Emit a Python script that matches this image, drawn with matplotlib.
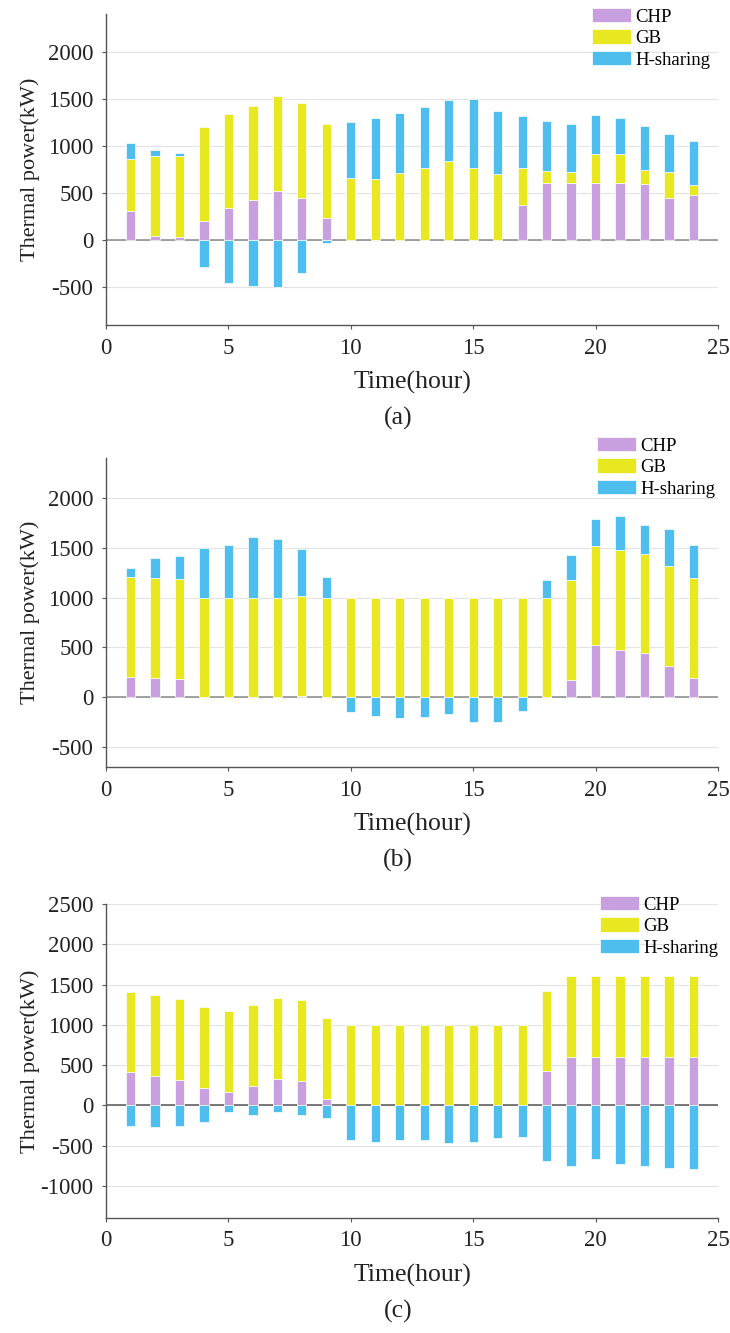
import matplotlib
matplotlib.use("Agg")
import matplotlib.pyplot as plt
import numpy as np

plt.rcParams['font.family'] = ['Liberation Serif', 'DejaVu Serif']
plt.rcParams['axes.unicode_minus'] = False

hours = list(range(1, 25))

# (a)
chp_a = [312, 43, 39, 199, 341, 422, 525, 451, 231, 0, 0, 0,
         0, 0, 0, 0, 373, 611, 604, 611, 611, 600, 451, 483]
gb_a = [547, 852, 856, 1000, 1000, 1000, 1000, 1000, 1000, 664, 650, 710,
        770, 841, 770, 699, 397, 127, 124, 308, 308, 149, 270, 99]
hs_a = [171, 65, 28, -284, -451, -483, -497, -348, -28, 589, 646, 643,
        643, 650, 728, 671, 551, 529, 504, 409, 373, 458, 401, 469]

# (b)
chp_b = [203, 193, 183, 0, 0, 0, 0, 15, 0, 0, 0, 0,
         0, 0, 0, 0, 0, 0, 177, 520, 473, 440, 313, 197]
gb_b = [1000] * 24
hs_b = [93, 203, 230, 493, 527, 607, 583, 472, 207, -147, -190, -210,
        -203, -173, -253, -247, -140, 173, 253, 267, 350, 287, 374, 326]

# (c)
chp_c = [410, 369, 315, 220, 170, 240, 328, 303, 79, 0, 0, 0,
         0, 0, 0, 0, 0, 423, 600, 600, 600, 600, 600, 600]
gb_c = [1000] * 24
hs_c = [-253, -274, -253, -211, -83, -124, -83, -124, -162, -431, -452, -431,
        -431, -473, -460, -410, -398, -692, -750, -672, -734, -750, -784, -792]

panels = [
    (chp_a, gb_a, hs_a, (-900, 2400), [-500, 0, 500, 1000, 1500, 2000], '(a)'),
    (chp_b, gb_b, hs_b, (-700, 2400), [-500, 0, 500, 1000, 1500, 2000], '(b)'),
    (chp_c, gb_c, hs_c, (-1400, 2500), [-1000, -500, 0, 500, 1000, 1500, 2000, 2500], '(c)'),
]

# axes boxes in pixels: top, bottom ; legend top-left in pixels
W, H = 730, 1333
boxes = [(14, 325), (458, 767), (904, 1218)]
leg_pos = [(592, 8), (597, 437), (600, 896)]

c_chp = '#C9A0DF'
c_gb = '#E8E820'
c_hs = '#4DBEEE'

fig = plt.figure(figsize=(W / 100, H / 100), dpi=100)

for (chp, gb, hs, ylim, yticks, tag), (top, bot), (lx, ly) in zip(panels, boxes, leg_pos):
    ax = fig.add_axes([106 / W, 1 - bot / H, 612 / W, (bot - top) / H])
    chp = np.array(chp)
    gb = np.array(gb)
    hs = np.array(hs)
    hs_bottom = np.where(hs > 0, chp + gb, 0)

    w = 0.38
    ax.bar(hours, chp, w, color=c_chp, edgecolor='white', linewidth=0.5, label='CHP', zorder=3)
    ax.bar(hours, gb, w, bottom=chp, color=c_gb, edgecolor='white', linewidth=0.5, label='GB', zorder=3)
    ax.bar(hours, hs, w, bottom=hs_bottom, color=c_hs, edgecolor='white', linewidth=0.5, label='H-sharing', zorder=3)

    zcol = '#555555' if tag == '(c)' else '#8a8a8a'
    ax.axhline(0, color=zcol, linewidth=1.1, zorder=2)

    ax.set_xlim(0, 25)
    ax.set_ylim(*ylim)
    ax.set_xticks([0, 5, 10, 15, 20, 25])
    ax.set_yticks(yticks)
    ax.yaxis.grid(True, color='#e3e3e3', linewidth=0.8, zorder=0)
    ax.set_axisbelow(True)
    for s in ['top', 'right']:
        ax.spines[s].set_visible(False)
    for s in ['left', 'bottom']:
        ax.spines[s].set_color('#555555')
        ax.spines[s].set_linewidth(1.0)
    ax.tick_params(direction='out', length=3, width=0.8, color='#555555',
                   labelsize=16.5, labelcolor='#222222', pad=6)

    h_ax = bot - top
    ax.set_xlabel('Time(hour)', fontsize=18.5, color='#222222', va='center')
    ax.xaxis.set_label_coords(0.5, -57 / h_ax)
    ax.set_ylabel('Thermal power(kW)', fontsize=16, color='#222222')
    ax.yaxis.set_label_coords(-66 / 612, 0.5)
    ax.text(398 / W, 1 - (bot + 93) / H, tag, transform=fig.transFigure,
            ha='center', va='center', fontsize=18.5, color='#222222')

    ax.legend(loc='upper left', bbox_to_anchor=(lx / W, 1 - ly / H),
              bbox_transform=fig.transFigure, frameon=False, fontsize=13.5,
              handlelength=2.1, handleheight=0.8, handletextpad=0.2,
              labelspacing=0.2, borderpad=0, borderaxespad=0)

fig.savefig('out.png', dpi=100)
